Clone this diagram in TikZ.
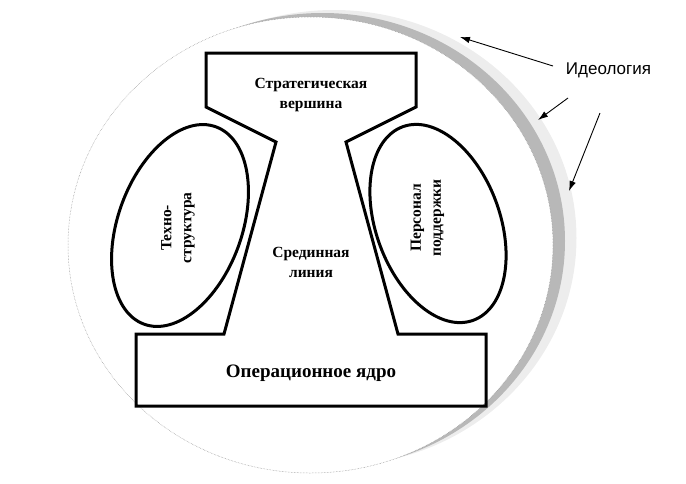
\documentclass[tikz,border=0pt]{standalone}
\usepackage{fontspec}
\setmainfont{Liberation Serif}
\newfontfamily\sansf{Liberation Sans}
\usetikzlibrary{shapes.geometric,arrows.meta}
\tikzset{
  partline/.style={draw=black, line width=3pt, line join=miter},
  unit/.style={ellipse, draw=black, line width=3pt, fill=none, inner sep=0pt},
  lbl/.style={font=\bfseries\fontsize{15.5}{20}\selectfont, align=center, inner sep=0pt},
  biglbl/.style={font=\bfseries\fontsize{19}{23}\selectfont, align=center, inner sep=0pt},
  ideo/.style={font=\sansf\fontsize{17}{20}\selectfont, inner sep=0pt},
  pointer/.style={draw=black, line width=0.9pt, -{Latex[length=10pt,width=6.5pt]}}
}
\begin{document}
\begin{tikzpicture}[x=1pt,y=-1pt]
\useasboundingbox (0,0) rectangle (686,483);
% environment (ideology) ellipse with shadow
\fill[black!7] (334,238) ellipse [x radius=242.5, y radius=228];
\fill[black!28] (322.5,241) ellipse [x radius=242.5, y radius=228];
\filldraw[fill=white, draw=black!45, line width=0.5pt, densely dotted] (310.5,245) ellipse [x radius=242.5, y radius=228];
% central body
\draw[partline] (206,53) -- (416,53) -- (416,107) -- (346,142) -- (398,334)
  -- (486,334) -- (486,406) -- (136,406) -- (136,334) -- (224,334)
  -- (276,142) -- (206,107) -- cycle;
% side units
\node[unit, minimum width=124pt, minimum height=210pt, rotate=-20] (techno) at (180,225.5) {};
\node[unit, minimum width=124pt, minimum height=206pt, rotate=20] (support) at (438,223.5) {};
% labels
\node[lbl] (apex) at (311,95) {Стратегическая\\вершина};
\node[lbl] (middle) at (311,262.5) {Срединная\\линия};
\node[lbl, rotate=90] (technotxt) at (178,228) {Техно-\\структура};
\node[lbl, rotate=90] (supporttxt) at (427.5,218) {Персонал\\поддержки};
\node[biglbl] (core) at (311,373) {Операционное ядро};
\node[ideo] (ideology) at (608.5,70) {Идеология};
% pointers
\coordinate (s1) at (553,66);
\coordinate (e1) at (460,37);
\coordinate (s2) at (568,98);
\coordinate (e2) at (538,120);
\coordinate (s3) at (600,113);
\coordinate (e3) at (569,191);
\draw[pointer] (s1) -- (e1);
\draw[pointer] (s2) -- (e2);
\draw[pointer] (s3) -- (e3);
\end{tikzpicture}
\end{document}
